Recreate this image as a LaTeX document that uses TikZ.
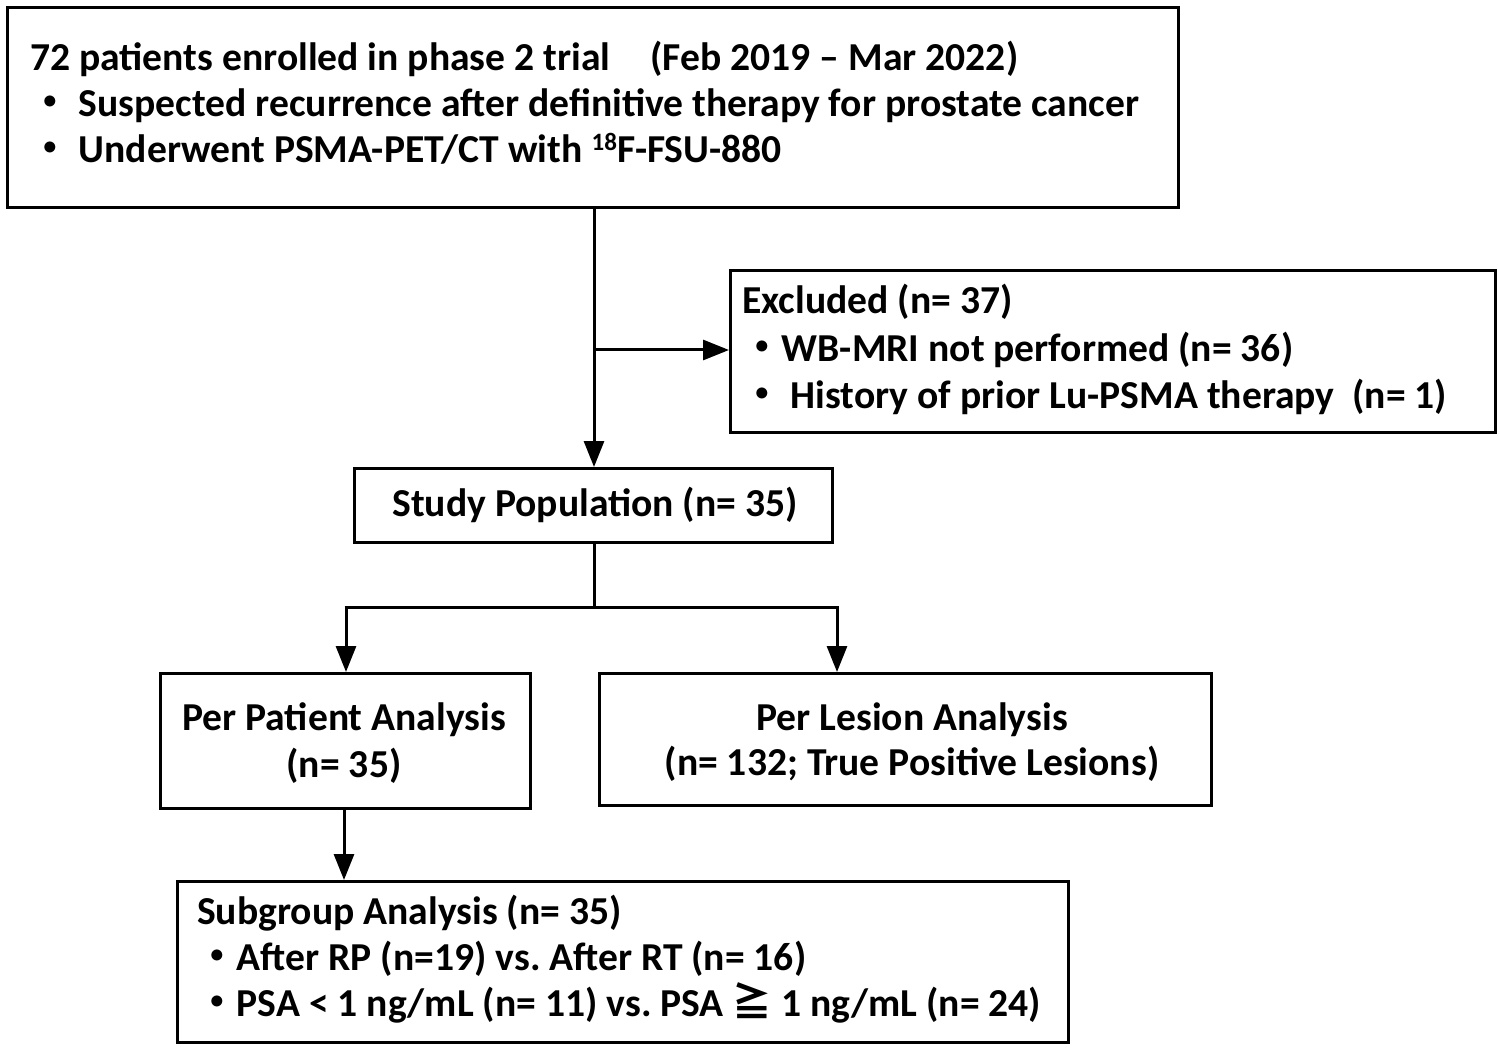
\documentclass[tikz,border=0pt]{standalone}
\usepackage{fontspec}
\setmainfont{Carlito}
\newfontfamily\cjk{Noto Sans CJK JP}
\usetikzlibrary{arrows.meta}
\frenchspacing
\newcommand\fs{\fontsize{39.6}{46}\selectfont\bfseries}
\newcommand\bul{{\cjk ・}}
\newcommand\geqq{{\cjk ≧}}
\begin{document}
\begin{tikzpicture}[x=1pt,y=-1pt,
  box/.style={draw, line width=3pt, inner sep=0pt, anchor=north west},
  txt/.style={anchor=base west, inner sep=0pt, font=\fs},
  ctxt/.style={anchor=base, inner sep=0pt, font=\fs},
  conn/.style={line width=3pt},
  arr/.style={line width=3pt, -{Triangle[length=26pt,width=20pt]}}]
\useasboundingbox (0,0) rectangle (1499,1048);
% boxes
\node[box, minimum width=1171pt, minimum height=200pt] (top) at (6,6) {};
\node[box, minimum width=765pt, minimum height=162pt] (excl) at (729,269) {};
\node[box, minimum width=478pt, minimum height=74pt] (study) at (353,467) {};
\node[box, minimum width=370pt, minimum height=135pt] (pp) at (159,672) {};
\node[box, minimum width=612pt, minimum height=132pt] (pl) at (598,672) {};
\node[box, minimum width=891pt, minimum height=161pt] (sub) at (176,880) {};
% texts
\node[txt] (t1) at (30,71) {72 patients enrolled in phase 2 trial\hspace{40pt}(Feb 2019 -- Mar 2022)};
\node[txt] (t2) at (30,117) {\bul{} Suspected recurrence after definitive therapy for prostate cancer};
\node[txt] (t3) at (30,163) {\bul{} Underwent PSMA-PET/CT with {\fontsize{25}{25}\selectfont\raisebox{12pt}{18}}F-FSU-880};
\node[txt] (e1) at (742,314) {Excluded (n= 37)};
\node[txt] (e2) at (742,362) {\bul{}WB-MRI not performed (n= 36)};
\node[txt] (e3) at (742,409) {\bul{} History of prior Lu-PSMA therapy\ \ (n= 1)};
\node[ctxt] (s1) at (595,516) {Study Population (n= 35)};
\node[ctxt] (p1) at (344,730) {Per Patient Analysis};
\node[ctxt] (p2) at (344,777) {(n= 35)};
\node[ctxt] (l1) at (912,730) {Per Lesion Analysis};
\node[ctxt] (l2) at (912,775) {(n= 132; True Positive Lesions)};
\node[txt] (g1) at (197,924) {Subgroup Analysis (n= 35)};
\node[txt] (g2) at (197,970) {\bul{}After RP (n=19) vs. After RT (n= 16)};
\node[txt] (g3) at (197,1016) {\bul{}PSA < 1 ng/mL (n= 11) vs. PSA \geqq{} 1 ng/mL (n= 24)};
% connectors
\coordinate (vx) at (594,0);
\coordinate (br) at (594,350);
\coordinate (sp) at (594,607);
\coordinate (lb) at (346,607);
\coordinate (rb) at (837,607);
\coordinate (px) at (344,0);
\draw[arr] (vx |- top.south) -- (vx |- study.north);
\draw[arr] (br) -- (br -| excl.west);
\draw[conn] (vx |- study.south) -- (sp);
\draw[conn] ([xshift=-1.5pt]lb) -- ([xshift=1.5pt]rb);
\draw[arr] (lb) -- (lb |- pp.north);
\draw[arr] (rb) -- (rb |- pl.north);
\draw[arr] (px |- pp.south) -- (px |- sub.north);
\end{tikzpicture}
\end{document}
